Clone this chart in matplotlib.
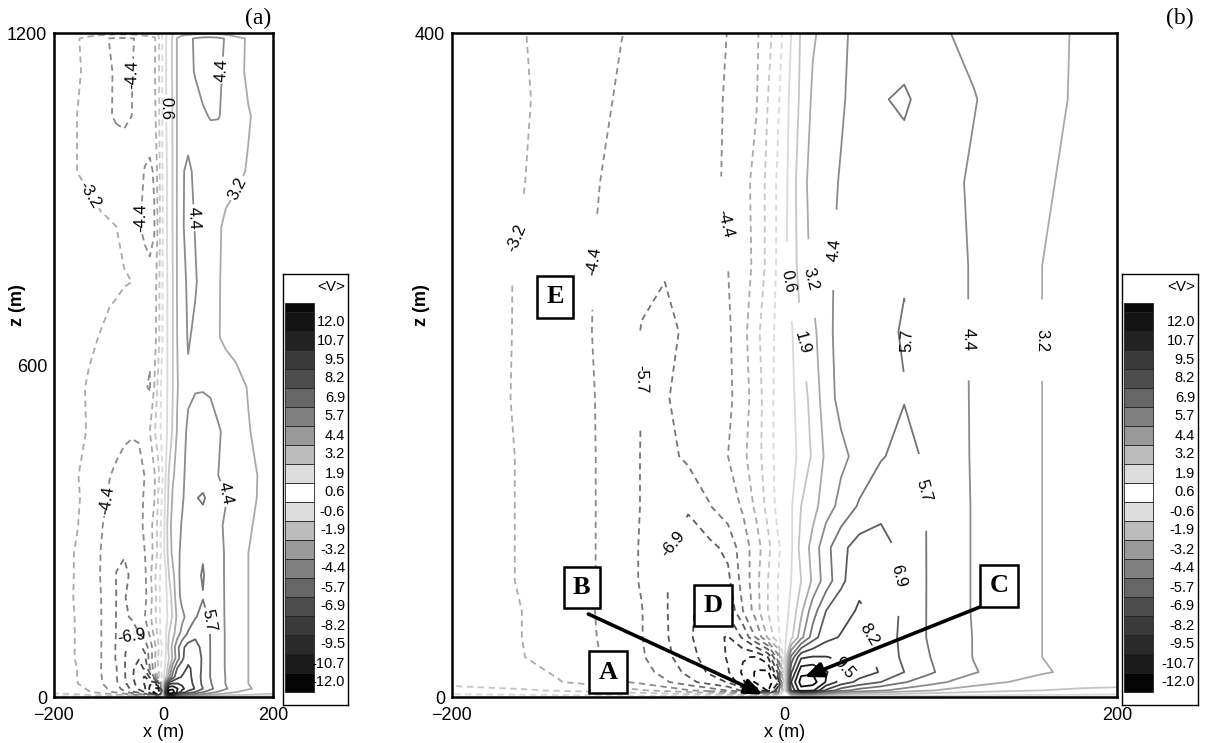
import numpy as np
import matplotlib.pyplot as plt
from matplotlib.patches import Rectangle

plt.rcParams['font.family'] = ['Liberation Sans', 'DejaVu Sans']

# grid of the <V> field (x, z in m)
x_nodes = [-200, -175, -158, -136, -114, -98, -86, -72, -58, -45, -34, -25, -17, -10, -4,
           4, 10, 17, 25, 34, 45, 58, 72, 86, 100, 114, 132, 155, 178, 200]
z_nodes = [0, 4, 9, 15, 24, 36, 52, 70, 90, 115, 145, 180, 220, 260, 310, 360, 400,
           480, 560, 650, 750, 850, 950, 1050, 1130, 1190, 1200]

v_rows = [
    [0.0] * 30,                                                                                   # z=0
    [-1.5, -1.65, -1.75, -2.05, -2.4, -2.8, -3.1, -3.6, -4.3, -5.0, -5.8, -7.2, -10.0, -12.2, -8.5,
     8.5, 11.5, 11.0, 8.0, 6.2, 5.2, 4.6, 3.9, 3.35, 2.9, 2.55, 2.2, 1.9, 1.7, 1.6],              # z=4
    [-2.25, -2.5, -2.68, -3.15, -3.6, -4.25, -4.7, -5.5, -6.5, -7.5, -8.3, -10.5, -12.3, -12.7, -11.0,
     9.5, 12.6, 12.6, 10.6, 9.0, 7.8, 6.9, 5.8, 5.0, 4.3, 3.75, 3.25, 2.8, 2.5, 2.4],             # z=9
    [-2.5, -2.75, -2.95, -3.3, -3.9, -4.6, -5.2, -6.1, -7.2, -8.4, -9.4, -10.9, -12.2, -12.3, -8.0,
     8.0, 11.6, 11.8, 10.8, 9.8, 8.9, 8.1, 6.9, 6.0, 5.1, 4.5, 3.85, 3.3, 2.95, 2.8],             # z=15
    [-2.65, -2.95, -3.15, -3.7, -4.25, -5.0, -5.55, -6.5, -7.7, -8.8, -9.6, -10.6, -10.8, -9.5, -5.0,
     6.0, 9.3, 9.6, 9.55, 9.3, 8.6, 7.95, 6.6, 5.8, 5.0, 4.35, 3.75, 3.2, 2.95, 2.8],             # z=24
    [-2.7, -3.05, -3.2, -3.75, -4.35, -5.1, -5.65, -6.7, -7.95, -9.1, -9.6, -8.0, -5.5, -3.0, -0.9,
     1.5, 4.0, 6.3, 7.8, 8.3, 8.6, 7.7, 6.55, 5.65, 4.95, 4.35, 3.75, 3.2, 2.95, 2.8],            # z=36
    [-2.7, -3.05, -3.2, -3.8, -4.4, -5.15, -5.65, -6.75, -7.95, -8.8, -7.95, -5.7, -3.75, -1.9, -0.6,
     0.9, 2.9, 5.1, 6.9, 7.7, 8.35, 7.9, 6.6, 5.65, 4.95, 4.3, 3.75, 3.2, 2.95, 2.8],             # z=52
    [-2.7, -3.05, -3.25, -3.85, -4.38, -5.2, -5.8, -6.8, -7.6, -8.1, -7.2, -5.2, -3.6, -1.9, -0.6,
     0.6, 1.9, 3.4, 5.05, 6.6, 7.9, 7.7, 6.7, 5.65, 4.95, 4.3, 3.75, 3.2, 2.95, 2.8],             # z=70
    [-2.7, -3.05, -3.25, -3.85, -4.38, -5.2, -5.8, -6.75, -7.3, -7.2, -6.6, -5.0, -3.8, -2.25, -0.8,
     0.4, 2.4, 3.6, 5.3, 6.6, 7.4, 7.3, 6.6, 5.65, 4.95, 4.3, 3.75, 3.2, 2.95, 2.8],              # z=90
    [-2.7, -3.05, -3.25, -3.85, -4.38, -5.1, -5.75, -6.45, -6.8, -5.75, -5.0, -4.25, -2.9, -1.5, -0.2,
     0.45, 1.9, 2.8, 3.8, 4.8, 5.85, 6.6, 6.5, 5.65, 4.95, 4.3, 3.75, 3.2, 2.95, 2.8],            # z=115
    [-2.7, -3.05, -3.25, -3.85, -4.38, -5.1, -5.75, -6.1, -5.45, -5.0, -4.4, -3.5, -2.4, -1.25, -0.1,
     0.2, 0.95, 2.1, 3.45, 4.1, 4.8, 5.6, 6.1, 5.5, 4.8, 4.3, 3.75, 3.2, 2.95, 2.8],              # z=145
    [-2.7, -3.05, -3.3, -3.85, -4.4, -5.0, -5.72, -5.8, -5.3, -5.0, -4.65, -3.8, -2.55, -1.2, -0.1,
     0.3, 1.2, 2.4, 3.9, 4.75, 5.1, 5.4, 5.65, 5.3, 4.75, 4.3, 3.75, 3.2, 2.95, 2.8],             # z=180
    [-2.7, -3.05, -3.28, -3.85, -4.45, -5.05, -5.75, -6.0, -5.5, -5.1, -4.6, -3.6, -2.25, -1.1, -0.3,
     0.4, 1.9, 2.9, 4.0, 4.9, 5.2, 5.4, 5.8, 5.1, 4.7, 4.3, 3.75, 3.2, 2.95, 2.8],                # z=220
    [-2.65, -3.0, -3.3, -3.75, -4.43, -4.95, -5.45, -5.6, -5.45, -5.0, -4.4, -3.8, -2.85, -1.55, -0.4,
     1.1, 2.55, 3.5, 4.1, 4.7, 5.1, 5.3, 5.6, 5.1, 4.7, 4.3, 3.8, 3.2, 2.95, 2.8],                # z=260
    [-2.7, -2.95, -3.15, -3.7, -4.33, -4.7, -4.95, -5.2, -5.3, -4.9, -4.1, -3.6, -2.85, -1.55, -0.4,
     1.0, 2.9, 3.5, 4.0, 4.5, 5.3, 5.5, 5.1, 4.85, 4.6, 4.25, 3.85, 3.3, 3.0, 2.8],               # z=310
    [-2.75, -2.95, -3.1, -3.5, -4.1, -4.55, -4.8, -5.0, -5.2, -4.9, -4.2, -3.8, -3.3, -1.9, -0.8,
     0.9, 2.2, 3.4, 3.8, 4.25, 4.9, 5.6, 5.9, 5.2, 4.75, 4.45, 4.0, 3.5, 3.05, 2.85],             # z=360
    [-2.8, -3.0, -3.15, -3.55, -4.03, -4.38, -4.6, -4.9, -5.4, -5.1, -4.35, -3.85, -3.4, -2.35, -1.15,
     0.6, 2.05, 3.05, 3.6, 4.15, 4.8, 5.2, 5.0, 4.7, 4.4, 4.15, 3.85, 3.45, 3.1, 2.85],           # z=400
    [-2.6, -2.9, -3.05, -3.25, -3.6, -3.85, -4.0, -4.15, -4.2, -4.15, -4.0, -3.2, -2.1, -1.2, -0.4,
     0.3, 1.0, 2.1, 3.3, 4.0, 4.6, 5.0, 5.2, 5.0, 4.5, 4.2, 3.85, 3.25, 2.95, 2.8],               # z=480
    [-2.6, -2.85, -3.0, -3.3, -3.6, -3.8, -3.9, -4.0, -4.05, -4.1, -4.3, -4.5, -3.2, -1.6, -0.5,
     0.3, 0.9, 1.9, 3.1, 3.8, 4.2, 4.3, 4.3, 4.2, 4.0, 3.8, 3.5, 3.15, 2.95, 2.8],                # z=560
    [-2.6, -2.8, -2.9, -3.05, -3.25, -3.45, -3.55, -3.7, -3.8, -3.9, -4.1, -4.2, -3.8, -2.5, -1.0,
     0.4, 0.8, 1.9, 3.2, 3.8, 4.5, 4.2, 3.9, 3.6, 3.25, 3.0, 2.9, 2.8, 2.75, 2.7],                # z=650
    [-2.5, -2.6, -2.7, -2.8, -2.9, -3.0, -3.05, -3.15, -3.2, -3.5, -3.8, -4.1, -3.9, -2.6, -1.0,
     0.4, 0.8, 1.9, 3.3, 4.0, 4.6, 4.5, 4.0, 3.6, 3.25, 3.05, 2.95, 2.85, 2.8, 2.75],             # z=750
    [-2.55, -2.65, -2.75, -2.9, -3.05, -3.13, -3.2, -3.35, -3.6, -4.3, -4.7, -4.75, -4.5, -3.0, -1.1,
     0.4, 0.9, 2.0, 3.3, 4.25, 4.8, 4.35, 3.9, 3.6, 3.3, 3.05, 2.95, 2.85, 2.8, 2.75],            # z=850
    [-2.9, -3.05, -3.2, -3.4, -3.6, -3.7, -3.8, -3.9, -4.0, -4.15, -4.45, -4.6, -4.3, -2.8, -1.0,
     0.4, 0.9, 2.0, 3.3, 4.3, 4.6, 4.2, 3.95, 3.8, 3.6, 3.5, 3.35, 3.15, 3.0, 2.9],               # z=950
    [-2.9, -3.05, -3.2, -3.5, -3.85, -4.35, -4.5, -4.55, -4.4, -4.0, -3.9, -3.8, -3.6, -2.5, -0.9,
     0.5, 1.1, 2.0, 3.3, 3.7, 3.9, 4.1, 4.3, 4.45, 4.45, 4.2, 3.7, 3.25, 3.0, 2.9],               # z=1050
    [-2.8, -2.95, -3.1, -3.4, -3.9, -4.3, -4.55, -4.6, -4.45, -4.0, -3.8, -3.6, -3.4, -2.4, -0.9,
     0.5, 1.2, 2.1, 3.3, 3.7, 4.2, 4.45, 4.7, 4.8, 4.6, 4.2, 3.5, 3.05, 2.9, 2.8],                # z=1130
    [-2.75, -2.9, -3.1, -3.6, -4.1, -4.45, -4.6, -4.6, -4.5, -4.2, -3.9, -3.7, -3.5, -2.4, -0.9,
     0.5, 1.2, 2.1, 3.3, 3.8, 4.2, 4.5, 4.8, 4.85, 4.7, 4.3, 3.6, 3.05, 2.9, 2.8],                # z=1190
    [-2.3, -2.35, -2.4, -2.5, -2.6, -2.7, -2.7, -2.7, -2.7, -2.6, -2.5, -2.4, -2.3, -1.8, -0.7,
     0.4, 1.0, 1.8, 2.5, 2.6, 2.7, 2.8, 2.9, 2.9, 2.8, 2.7, 2.5, 2.4, 2.35, 2.3],                 # z=1200
]

levels = [-12.0, -10.7, -9.5, -8.2, -6.9, -5.7, -4.4, -3.2, -1.9, -0.6,
          0.6, 1.9, 3.2, 4.4, 5.7, 6.9, 8.2, 9.5, 10.7, 12.0]
legend_labels = ["12.0", "10.7", "9.5", "8.2", "6.9", "5.7", "4.4", "3.2", "1.9", "0.6",
                 "-0.6", "-1.9", "-3.2", "-4.4", "-5.7", "-6.9", "-8.2", "-9.5", "-10.7", "-12.0"]
legend_greys = ['#141414', '#222222', '#3a3a3a', '#4d4d4d', '#666666', '#808080', '#999999',
                '#bbbbbb', '#dddddd', '#ffffff', '#dddddd', '#bbbbbb', '#999999', '#808080',
                '#666666', '#4d4d4d', '#3a3a3a', '#2a2a2a', '#1a1a1a', '#050505']

line_grey = {0.6: '#d9d9d9', 1.9: '#c4c4c4', 3.2: '#a9a9a9', 4.4: '#8a8a8a', 5.7: '#747474',
             6.9: '#5c5c5c', 8.2: '#474747', 9.5: '#333333', 10.7: '#1f1f1f', 12.0: '#0a0a0a'}

# label spots (level -> points) for each panel
labels_a = {-4.4: [(-61, 1124), (-37, 866), (-104, 356)], 0.6: [(6, 1064)],
            4.4: [(103, 1133), (54, 866), (115, 368)], -3.2: [(-116, 920)],
            3.2: [(134, 920)], 5.7: [(90, 139)], -6.9: [(-67, 121)]}
labels_b = {-3.2: [(-160, 275)], -4.4: [(-114, 262), (-32, 288)], -5.7: [(-82, 192)],
            -6.9: [(-68, 96)], 0.6: [(1, 249)], 1.9: [(9, 212)],
            3.2: [(13, 249), (155, 215)], 4.4: [(31, 269), (109, 215)],
            5.7: [(76, 213), (85, 125)], 6.9: [(66, 69)], 8.2: [(52, 39)], 9.5: [(36, 17)]}

box_letters = ['E', 'B', 'D', 'A', 'C']
box_x = [-138, -122, -43, -106, 129]
box_z = [241, 66, 55, 15, 67]
arrow_from = [(-118, 50), (117, 54)]
arrow_to = [(-13, 1.5), (12, 12)]

W, H = 1211, 743
fig = plt.figure(figsize=(W / 100, H / 100), dpi=100)

X, Z = np.meshgrid(x_nodes, z_nodes)
V = np.array(v_rows)


def panel(rect, ztop, yticks, spots, ylab_x):
    ax = fig.add_axes(rect)
    # one contour set per level so each can get its own hand-placed labels
    for lv in levels:
        ls = (0, (3.5, 2.5)) if lv < 0 else 'solid'
        cs = ax.contour(X, Z, V, levels=[lv], colors=[line_grey[abs(lv)]],
                        linewidths=1.3, linestyles=[ls])
        if lv in spots:
            ax.clabel(cs, manual=spots[lv], inline=True, fmt='%.1f',
                      fontsize=12, colors='k', inline_spacing=2)
    ax.set_xlim(-200, 200)
    ax.set_ylim(0, ztop)
    ax.set_xticks([-200, 0, 200])
    ax.set_yticks(yticks)
    ax.tick_params(length=0, labelsize=13)
    ax.tick_params(axis='x', pad=7.5)
    ax.tick_params(axis='y', pad=5)
    for s in ax.spines.values():
        s.set_linewidth(1.8)
    ax.set_xlabel('x (m)', fontsize=13, labelpad=0)
    ax.set_ylabel('z (m)', fontsize=13, fontweight='bold')
    ax.yaxis.set_label_coords(ylab_x, 0.59)
    return ax


axa = panel([54 / W, 46 / H, 219 / W, 664 / H], 1200, [0, 600, 1200], labels_a, -0.128)
axb = panel([452 / W, 46 / H, 665 / W, 664 / H], 400, [0, 400], labels_b, -0.033)

for i in range(len(arrow_from)):
    axb.annotate('', xy=arrow_to[i], xytext=arrow_from[i], zorder=5,
                 arrowprops=dict(arrowstyle='-|>,head_length=0.6,head_width=0.25',
                                 lw=2.6, color='k', mutation_scale=18, shrinkA=0, shrinkB=0))
for letter, bx, bz in zip(box_letters, box_x, box_z):
    axb.text(bx, bz, letter, fontsize=19, fontweight='bold', family='Liberation Serif',
             ha='center', va='center', zorder=6,
             bbox=dict(boxstyle='square,pad=0.35', fc='white', ec='black', lw=1.8))


def legend(left, top, width, height):
    lax = fig.add_axes([left / W, 1 - (top + height) / H, width / W, height / H])
    lax.set_xlim(0, width)
    lax.set_ylim(height, 0)
    lax.set_xticks([])
    lax.set_yticks([])
    for s in lax.spines.values():
        s.set_linewidth(1.0)
    lax.text(width - 3, 13, '<V>', ha='right', va='center', fontsize=11)
    lax.add_patch(Rectangle((2, 29), 29, 9, fc='#0a0a0a', ec='#222222', lw=0.6))
    for k, (lab, g) in enumerate(zip(legend_labels, legend_greys)):
        y0 = 38 + 19 * k
        lax.add_patch(Rectangle((2, y0), 29, 19, fc=g, ec='#222222', lw=0.6))
        lax.text(width - 3, y0 + 9.5, lab, ha='right', va='center', fontsize=10.5)


legend(283, 274, 65, 431)
legend(1122, 274, 76, 431)

fig.text(258 / W, 1 - 18 / H, '(a)', family='Liberation Serif', fontsize=17, ha='center', va='center')
fig.text(1180 / W, 1 - 18 / H, '(b)', family='Liberation Serif', fontsize=17, ha='center', va='center')

fig.savefig('out.png', dpi=100)
